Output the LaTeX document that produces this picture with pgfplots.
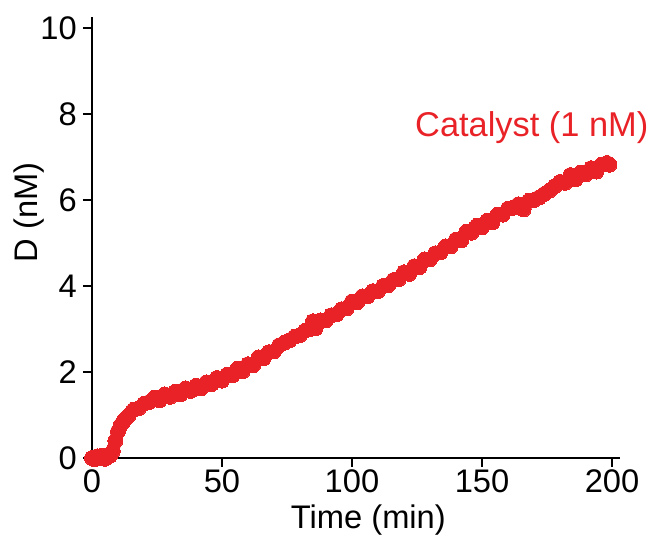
\documentclass[border=0pt]{standalone}
\usepackage{pgfplots}
\pgfplotsset{compat=1.18}
\usepackage{fontspec}
\setmainfont{Liberation Sans}
\definecolor{catred}{RGB}{233,34,40}

\newcommand{\bigfont}{\fontsize{24.5}{29}\selectfont}

\begin{document}
\begin{tikzpicture}
\begin{axis}[
  x=1.95pt, y=32.25pt,
  xmin=0, xmax=203, ymin=0, ymax=10.26,
  axis lines*=left,
  axis line style={line width=2.1pt, black},
  xtick={0,50,100,150,200},
  ytick={0,2,4,6,8,10},
  tick align=outside,
  major tick length=6.75pt,
  every tick/.style={line width=2.1pt, black},
  /pgf/number format/assume math mode=true,
  ticklabel style={font=\bigfont, inner sep=0pt},
  xticklabel style={anchor=north, yshift=-1.5pt},
  yticklabel style={anchor=east, xshift=-4.5pt},
  xlabel={Time (min)},
  ylabel={D (nM)},
  label style={font=\bigfont, inner sep=0pt},
  xlabel style={at={(axis cs:106.3,0)}, anchor=base, yshift=-53.25pt},
  ylabel style={at={(axis cs:0,5.71)}, anchor=base, yshift=40.5pt},
  clip=false,
]
% product concentration over time, catalysed reaction
\addplot[catred, line width=9.5pt, line join=round, line cap=round,
  mark=*, mark size=5.6pt, mark options={draw=catred, fill=catred, line width=0pt}]
coordinates {
(0,0.00) (1,-0.03) (2,0.04) (3,0.00) (4,0.05) (5,-0.02) (6,0.03) (7,0.06)
(8,0.16) (9,0.40) (10,0.62) (11,0.76) (12,0.84) (13,0.92) (14,0.98)
(16,1.12) (18,1.16) (20,1.26) (22,1.30) (24,1.40) (26,1.34) (28,1.48)
(30,1.42) (32,1.54) (34,1.48) (36,1.62) (38,1.56) (40,1.68) (42,1.62)
(44,1.76) (46,1.72) (48,1.86) (50,1.80) (52,1.94) (54,1.92) (56,2.08)
(58,2.02) (60,2.18) (62,2.16) (64,2.34) (66,2.32) (68,2.46) (70,2.48)
(72,2.62) (74,2.68) (76,2.74) (78,2.82) (80,2.86) (82,2.96) (84,3.00)
(85,3.18) (86,3.02) (88,3.20) (90,3.20) (92,3.32) (94,3.34) (96,3.46)
(98,3.48) (100,3.64) (102,3.62) (104,3.76) (106,3.76) (108,3.88)
(110,3.88) (112,4.00) (114,4.02) (116,4.14) (118,4.16) (120,4.32)
(122,4.28) (124,4.46) (126,4.44) (128,4.62) (130,4.62) (132,4.76)
(134,4.78) (136,4.92) (138,4.92) (140,5.08) (142,5.06) (144,5.26)
(146,5.24) (148,5.40) (150,5.36) (152,5.52) (154,5.48) (156,5.66)
(158,5.66) (160,5.80) (162,5.82) (164,5.90) (166,5.78) (168,5.98)
(170,6.00) (172,6.06) (174,6.14) (176,6.22) (178,6.32) (180,6.42)
(182,6.40) (184,6.58) (186,6.48) (188,6.64) (190,6.60) (192,6.74)
(194,6.66) (196,6.82) (198,6.86) (199,6.82)
};
\node[catred, font=\fontsize{25.8}{30}\selectfont, anchor=base west, inner sep=0pt]
  at (axis cs:124.2,7.47) {Catalyst (1 nM)};
\coordinate (O) at (axis cs:0,0);
\end{axis}
\pgfresetboundingbox
\path (O) ++(-69pt,-60pt) rectangle ++(487.5pt,403.5pt);
\end{tikzpicture}
\end{document}
